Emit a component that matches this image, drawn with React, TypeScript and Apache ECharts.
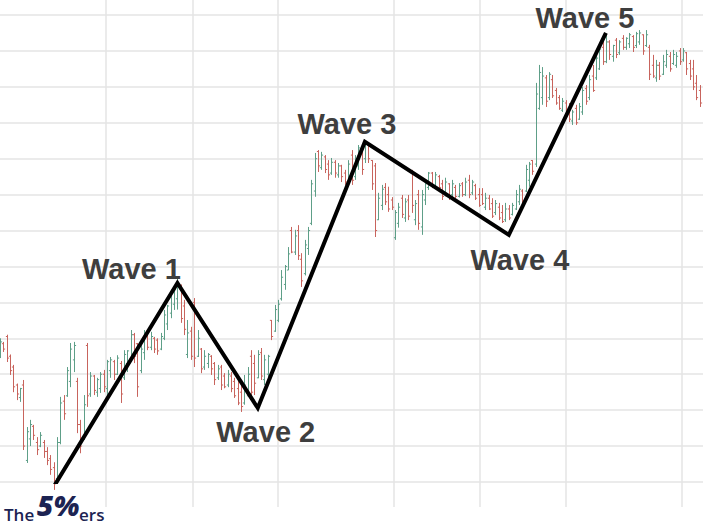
import React, { useEffect, useRef } from "react";
import * as echarts from "echarts";

// OHLC bars: [open, close, low, high], one per session step
const ohlc: number[][] = [
  [137, 139, 134.5, 140], [138.5, 137, 136.2, 139], [140.5, 134.5, 133.4, 141], [135, 131, 129.8, 135.5],
  [132, 126.5, 125, 132.6], [127, 124.5, 122.8, 127.4], [123.5, 126, 122.3, 126.2], [127, 110, 108.9, 128.4],
  [106, 114, 105.3, 115.3], [112, 116, 110, 117.3], [115.5, 113, 111.7, 115.9], [111, 109, 107.5, 112.5],
  [110, 113, 109.7, 113.9], [111, 108.5, 106.7, 111.7], [108.5, 106, 104.7, 109.7], [106.5, 103.5, 102, 107.5],
  [104, 99.5, 97.8, 105.5], [101, 111, 99.7, 112.5], [111, 122, 110.5, 123.7], [122.5, 119, 117.3, 124.2],
  [124, 131, 123.7, 132], [128, 137, 126.4, 138.7], [134, 138, 130.6, 139], [128, 116, 113.6, 129],
  [116, 110, 108, 117.3], [112, 121.5, 111.7, 124.2], [138, 124, 120.9, 138.7], [124.5, 129.5, 123.7, 130.6],
  [129.5, 125.5, 124.2, 129.8], [125, 128.5, 123.7, 129], [126, 130, 124.8, 130.6], [130, 126.5, 125, 131.2],
  [126, 133.5, 123.7, 134], [131, 134, 129, 134.8], [133.5, 130, 128.4, 134], [130, 134.5, 129.8, 135.3],
  [133, 124.5, 122, 133.7], [129, 135.5, 128.4, 136.7], [133, 136.5, 130.6, 136.7], [134, 141, 134, 142.3],
  [141, 135, 133.1, 141.5], [138.5, 126.5, 123.7, 138.7], [131, 137, 130.3, 138.1], [136, 141, 134, 142.3],
  [140.5, 137.5, 136.7, 140.9], [137.5, 140.5, 136.7, 141.8], [140, 137, 135.9, 140.4], [139.5, 136.5, 135.4, 140],
  [137, 140.5, 136.7, 141.5], [140, 146.5, 139.5, 147.9], [144, 149, 142.3, 149.3], [147, 152.5, 145.6, 153.5],
  [149.5, 153.5, 147.9, 154.8], [151, 155, 148, 156.5], [154, 145.5, 144.3, 155], [149, 142.5, 140.9, 150.7],
  [135.5, 141.5, 134.5, 145.1], [142, 135, 134, 143.2], [150, 134.5, 132, 151.2], [135, 140, 134.8, 142.3],
  [137, 131.5, 130.3, 137.3], [132, 135, 131.2, 136.7], [133, 135.5, 131.7, 135.9], [135, 131.5, 129.8, 135.3],
  [133, 128.5, 127, 133.4], [129, 131.5, 128.4, 132.6], [132, 127, 125.6, 132.6], [129.5, 126.5, 126.1, 130.3],
  [127, 130, 126.4, 131.2], [129.5, 126, 125, 130.6], [128, 124, 123.4, 129], [126, 122, 121.4, 128.4],
  [125, 121, 119.5, 127], [122, 127, 121.5, 129.8], [124, 130, 123.7, 132], [135, 125, 123.7, 136.7],
  [133, 127.5, 124.2, 135.4], [129, 135.5, 128.9, 136.7], [136, 129.5, 128.4, 137.3], [128.5, 134, 127, 135.4],
  [130, 135, 127.6, 135.4], [145, 140.5, 139.5, 145.1], [142, 148, 141.8, 149.3], [145, 149.5, 144.5, 150.7],
  [151, 157, 150.5, 159], [155, 160, 153.5, 160.4], [159, 163.5, 159, 165.4], [170, 164, 163.7, 171],
  [164, 168.5, 163.2, 170.2], [170, 163, 161.8, 171.5], [162, 156, 154.3, 163.7], [158, 166, 157.5, 167.4],
  [165, 170, 163.2, 171], [172, 183, 171.5, 184.1], [181, 190, 179.4, 191.6], [192, 188, 186.3, 192.4],
  [187.5, 191, 186.9, 191.9], [190.5, 187, 186, 191], [188.5, 185.5, 184.1, 189.6], [186, 189, 185.5, 190.2],
  [189, 186, 184.7, 189.6], [185.5, 188, 184.7, 188.8], [188, 185, 183.5, 188.3], [186, 183.5, 182.7, 186.9],
  [183, 188.5, 182.2, 189.6], [191, 184, 182.7, 192.4], [185, 190, 184.1, 191], [188, 193, 186.9, 193.8],
  [192, 187, 185.5, 193.8], [190, 194.5, 188.8, 195.2], [194, 190, 188.8, 194.4], [189.5, 183, 181.3, 189.6],
  [188, 170, 168.2, 188.8], [173, 179, 172.9, 180.5], [177, 181.5, 175.7, 182.7], [182, 178, 177.1, 183.2],
  [180, 176, 175.2, 182.2], [178.5, 176.5, 175.7, 179.3], [168, 175, 167.4, 175.7], [172, 176.5, 170.8, 177.7],
  [179, 174.5, 173.5, 179.9], [173.5, 178, 172.4, 179], [178.5, 174, 172.9, 179.9], [186, 177, 174.9, 186.9],
  [173, 177.5, 171.5, 178.5], [180, 172, 170.2, 181.3], [171, 180, 168.8, 181.3], [178.5, 183, 177.1, 184.1],
  [182, 186, 181.3, 186.3], [186, 182.5, 181.8, 186.3], [182.5, 185.5, 182.2, 186.3], [185, 182, 180.7, 185.5],
  [183, 179.5, 178.5, 184.1], [180, 183.5, 179.5, 184.7], [183, 179.5, 178.5, 183.2], [180, 183, 179.4, 184.1],
  [182, 179.5, 179, 182.7], [179.5, 182.5, 179.2, 183.2], [183, 180, 179.4, 183.5], [180, 183.5, 179.6, 184.7],
  [184, 180, 179, 185.5], [180.5, 183.5, 179.9, 184.1], [182.5, 179, 178.5, 183], [180, 177, 176.6, 181.8],
  [180, 177.5, 177.1, 181.8], [176.5, 179, 175.7, 180.5], [179, 176, 175.7, 179.9], [177.5, 174, 173.5, 179],
  [175, 177.5, 174.3, 178.5], [176.5, 173.5, 172.9, 177.7], [175, 172.5, 172.1, 177.1], [173, 176, 172.4, 177.7],
  [176, 173.5, 172.9, 177.1], [174.5, 177, 174.2, 177.7], [176, 180, 175.7, 181.3], [178, 181.5, 177.1, 182.7],
  [181, 177.5, 175.7, 181.5], [181, 187, 180.7, 188.3], [184, 188.5, 182.2, 189.1], [189.5, 186.5, 185.5, 189.6],
  [188.5, 208, 187.7, 211.1], [204, 214, 203.6, 216.1], [207, 213, 205, 215.5], [212.5, 206, 204.4, 213.3],
  [207, 213.5, 206.3, 214.1], [212, 207.5, 206.9, 213.3], [209, 205.5, 205, 209.7], [207, 204, 203.6, 207.7],
  [203.5, 206, 203, 206.9], [205.5, 202, 201.3, 206.3], [204, 201, 200.2, 205.5], [200.5, 203, 199.4, 203.6],
  [204, 200, 199.4, 205], [201, 204.5, 200.8, 205.5], [203, 209, 202.2, 210], [209.5, 206, 205, 210.5],
  [207, 212, 206.3, 213.3], [213, 209, 208.6, 216.1], [212.5, 218, 211.9, 220.3], [215, 220.5, 214.7, 222.2],
  [221, 217, 216.1, 223], [217, 222.5, 216.6, 224.4], [222.5, 219, 217.5, 223], [218.5, 221.5, 217, 221.7],
  [223, 219, 218, 223.6], [219.5, 222.5, 218.9, 223], [223.5, 221, 220.3, 224.4], [221, 223.5, 220.3, 223.8],
  [222, 224.5, 220.8, 225], [224, 221, 219.7, 224.4], [221.5, 224.8, 220.8, 225.3], [222.5, 225, 221.7, 225.8],
  [224.5, 220, 218.9, 224.6], [221.5, 224.5, 221.1, 225.8], [221, 213.5, 211.9, 221.7], [216, 213, 212.5, 218.9],
  [212.5, 216, 211.4, 217.5], [216, 213, 211.9, 216.9], [213.5, 217, 213.3, 218.9], [216, 219, 215.3, 220.3],
  [218.5, 215, 214.2, 219.7], [216.5, 219, 216.1, 220.3], [216, 218.5, 215.3, 219.7], [220, 217, 216.1, 220.8],
  [217.5, 220, 217, 220.8], [219.5, 215, 213.3, 219.7], [216.5, 213, 211.9, 217.5], [215, 210, 209.1, 217.5],
  [211, 207, 206.3, 213.3], [209, 205.5, 204.4, 210.5],
];

// Elliott wave pivots: [bar index, price]
const wavePoints: number[][] = [
  [16, 98.6], [53, 155.4], [77, 120.6], [109, 194.7], [152, 168.8], [181, 225.0],
];
const waveNames = ["", "Wave 1", "Wave 2", "Wave 3", "Wave 4", "Wave 5"];
// label offsets from each pivot, in pixels
const waveLabelOffsets: number[][] = [
  [0, 0], [-46, -14], [8, 24], [-18, -18], [11, 25], [-21, -15],
];

// session separators (bar index)
const sessionBreaks = [31.7, 57.6, 83.0, 117.7, 143.4, 169.1, 203.7];

const RED = "#c8645d";
const GREEN = "#5e9f88";
const GRID = "#e5e5e5";
const NAVY = "#1c2352";

export default function App() {
  const ref = useRef<HTMLDivElement>(null);

  useEffect(() => {
    if (!ref.current) return;
    const chart = echarts.init(ref.current, undefined, { renderer: "svg" });
    const xMax = 210;

    chart.setOption({
      animation: false,
      backgroundColor: "#ffffff",
      grid: [
        { left: 0, right: 0, top: 15, bottom: 45 },
        { left: 0, right: 0, top: 0, bottom: 20 },
      ],
      xAxis: [
        { type: "value", gridIndex: 0, min: 0, max: xMax, show: false },
        { type: "value", gridIndex: 1, min: 0, max: xMax, show: false },
      ],
      yAxis: [
        {
          type: "value",
          gridIndex: 0,
          min: 100,
          max: 230,
          interval: 10,
          axisLine: { show: false },
          axisTick: { show: false },
          axisLabel: { show: false },
          splitLine: { show: true, lineStyle: { color: GRID, width: 1.5 } },
        },
        { type: "value", gridIndex: 1, min: 0, max: 1, show: false, splitLine: { show: false } },
      ],
      series: [
        {
          type: "line",
          xAxisIndex: 1,
          yAxisIndex: 1,
          data: [[0, 0]],
          symbol: "none",
          lineStyle: { opacity: 0 },
          silent: true,
          z: 0,
          markLine: {
            silent: true,
            z: 0,
            symbol: "none",
            label: { show: false },
            lineStyle: { color: GRID, width: 1.5, type: "solid" },
            data: sessionBreaks.map((v) => ({ xAxis: v })),
          },
        },
        {
          type: "custom",
          xAxisIndex: 0,
          yAxisIndex: 0,
          z: 2,
          silent: true,
          encode: { x: 0, y: [1, 2, 3, 4] },
          data: ohlc.map((b, i) => [i, b[0], b[1], b[2], b[3]]),
          renderItem: (_params: any, api: any) => {
            const i = api.value(0);
            const open = api.value(1);
            const close = api.value(2);
            const o = api.coord([i, open]);
            const c = api.coord([i, close]);
            const l = api.coord([i, api.value(3)]);
            const h = api.coord([i, api.value(4)]);
            const color = close >= open ? GREEN : RED;
            const x = Math.round(o[0]) + 0.5;
            const t = 1.6;
            const style = { stroke: color, lineWidth: 1 };
            return {
              type: "group",
              children: [
                { type: "line", shape: { x1: x, y1: h[1], x2: x, y2: l[1] }, style },
                { type: "line", shape: { x1: x - t, y1: o[1], x2: x, y2: o[1] }, style },
                { type: "line", shape: { x1: x, y1: c[1], x2: x + t, y2: c[1] }, style },
              ],
            };
          },
        },
        {
          type: "line",
          xAxisIndex: 0,
          yAxisIndex: 0,
          z: 3,
          silent: true,
          symbol: "circle",
          symbolSize: 1,
          showSymbol: true,
          itemStyle: { color: "rgba(0,0,0,0)", borderWidth: 0 },
          lineStyle: { color: "#000000", width: 4, join: "miter", cap: "butt" },
          data: wavePoints.map((p, k) => ({
            value: p,
            name: waveNames[k],
            label: {
              show: k > 0,
              position: "inside",
              offset: waveLabelOffsets[k],
              formatter: "{b}",
              fontFamily: "Liberation Sans, Arial, sans-serif",
              fontWeight: "bold",
              fontSize: 29,
              color: "#3e3e3e",
            },
          })),
        },
      ],
      graphic: [
        {
          type: "text",
          x: 4,
          y: 506,
          style: { text: "The", fill: NAVY, font: '600 17px "Open Sans", sans-serif' },
        },
        {
          type: "text",
          x: 37,
          y: 491,
          style: { text: "5%", fill: NAVY, font: 'italic 900 28px "Noto Sans", sans-serif' },
        },
        {
          type: "text",
          x: 79,
          y: 506,
          style: { text: "ers", fill: NAVY, font: '600 17px "Open Sans", sans-serif' },
        },
      ],
    });

    return () => chart.dispose();
  }, []);

  return (
    <div
      ref={ref}
      style={{ position: "absolute", left: 0, top: 0, width: 703, height: 527, background: "#fff" }}
    />
  );
}
